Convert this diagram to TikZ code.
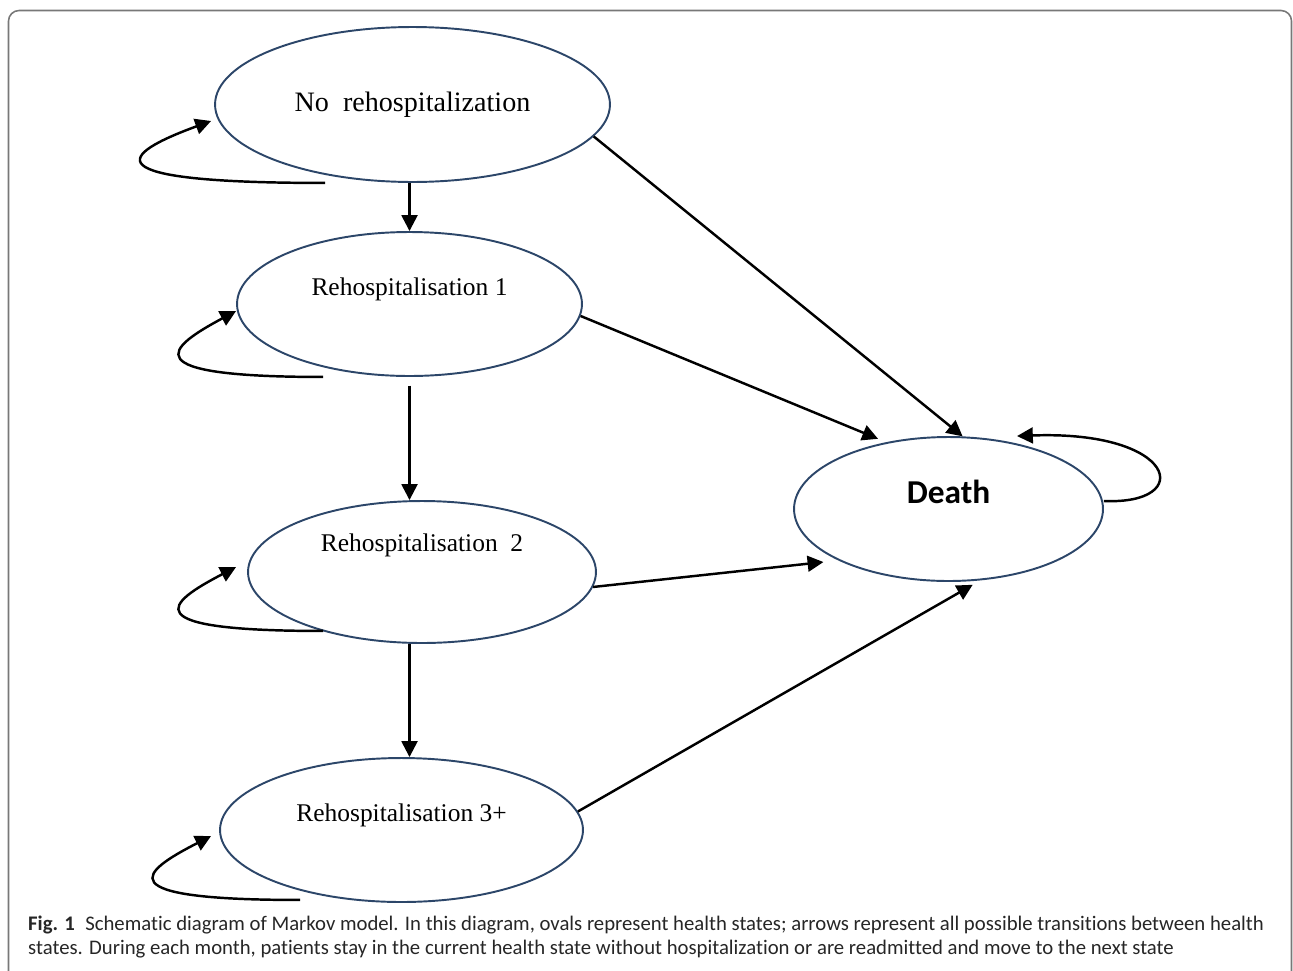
\documentclass[tikz,border=0pt]{standalone}
\usepackage{fontspec}
\setmainfont{Liberation Serif}
\newfontfamily\deathfont{Carlito}
\newfontfamily\capfont[Ligatures=NoCommon]{Carlito}
\usetikzlibrary{shapes.geometric, arrows.meta, positioning}

\definecolor{ovalblue}{RGB}{44,70,105}
\definecolor{framegray}{RGB}{120,120,120}

\begin{document}
\begin{tikzpicture}[x=0.02cm, y=0.02cm, ->, >={Triangle[length=9pt, width=9pt]}, line width=1.4pt,
        state/.style={ellipse, draw=ovalblue, line width=1.1pt, inner sep=0pt},
        rlabel/.style={font=\fontsize{14.5}{17}\selectfont}]
        \useasboundingbox (0,0) rectangle (1293,-970);
        \draw[-, framegray, line width=0.9pt, rounded corners=6pt]
            (8.5,-985) -- (8.5,-10.5) -- (1291.5,-10.5) -- (1291.5,-985);

        \node (N) [state, minimum width=7.9cm, minimum height=3.1cm] at (412.5,-104.5)
            {\fontsize{16}{19}\selectfont No\enspace rehospitalization};
        \node (R1) [state, minimum width=6.9cm, minimum height=2.88cm,
            label={[rlabel, yshift=0.3cm]center:Rehospitalisation 1}] at (409.5,-304) {};
        \node (R2) [state, minimum width=6.96cm, minimum height=2.84cm,
            label={[rlabel, yshift=0.54cm]center:Rehospitalisation\enspace 2}] at (422,-572) {};
        \node (R3) [state, minimum width=7.26cm, minimum height=2.88cm,
            label={[rlabel, yshift=0.3cm]center:Rehospitalisation 3+}] at (401.5,-830) {};
        \node (D) [state, minimum width=6.18cm, minimum height=2.88cm,
            label={[font=\deathfont\bfseries\fontsize{19}{23}\selectfont, yshift=0.34cm]center:Death}] at (948.5,-509) {};

        \path
            (N.south -| R1.south) edge (R1.north)
            (R1.south) edge[shorten <=5pt] (R1.south |- R2.north)
            (R2.south -| R1.south) edge (R3.north -| R1.south)
            (N.-10) edge (D.79)
            (R1.-4) edge[shorten >=5pt] (D.133)
            (R2.-5) edge[shorten >=8.5pt] (D.205)
            (R3.6) edge[shorten >=5pt] (D.-66);

        % self loops
        \draw ([shift={(-87.5,0)}]N.south) .. controls +(-240,0) and +(-90,-33) .. ([shift={(-3,-16.5)}]N.west);
        \draw ([shift={(-86.5,0)}]R1.south) .. controls +(-192,0) and +(-69,-37) .. ([shift={(0,-7)}]R1.west);
        \draw ([shift={(-99,13)}]R2.south) .. controls +(-192,0) and +(-69,-36) .. ([shift={(-11,5)}]R2.west);
        \draw ([shift={(-101.5,3)}]R3.south) .. controls +(-196,0) and +(-70,-36) .. ([shift={(-8,-6)}]R3.west);
        \draw ([shift={(0,8)}]D.east) .. controls +(92,-4) and +(160,6) .. ([shift={(68.5,0)}]D.north);

        \node (cap) [anchor=north west, inner sep=0pt, align=left, text=black!85,
            font=\capfont\fontsize{11.8}{13.3}\selectfont] at (27,-915)
            {\textbf{Fig. 1}\enspace Schematic diagram of Markov model. In this diagram, ovals represent health states; arrows represent all possible transitions between health\\
             states. During each month, patients stay in the current health state without hospitalization or are readmitted and move to the next state};
\end{tikzpicture}
\end{document}
